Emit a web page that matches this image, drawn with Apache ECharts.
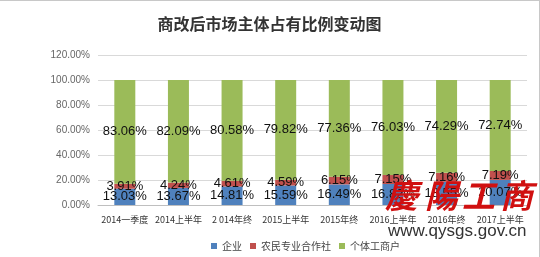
<!DOCTYPE html>
<html><head><meta charset="utf-8">
<script src="https://cdn.jsdelivr.net/npm/echarts@6/dist/echarts.min.js"></script>
<style>html,body{margin:0;padding:0;background:#fff}#c{width:540px;height:257px;box-sizing:border-box;border-top:1px solid #c8c8c8;border-right:1px solid #c8c8c8}</style>
</head><body><div id="c"></div>
<script>
const categories = ['2014一季度','2014上半年','2 014年终','2015上半年','2015年终','2016上半年','2016年终','2017上半年'];
const qiye = [13.03, 13.67, 14.81, 15.59, 16.49, 16.82, 18.55, 20.07];
const hezuoshe = [3.91, 4.24, 4.61, 4.59, 6.15, 7.15, 7.16, 7.19];
const getihu = [83.06, 82.09, 80.58, 79.82, 77.36, 76.03, 74.29, 72.74];
const seriesNames = ['企业','农民专业合作社','个体工商户'];
const yTicks = {min:0, max:120, interval:20};

const chart = echarts.init(document.getElementById('c'), null, {renderer:'canvas'});
const lbl = {show:true, position:'inside', color:'#111', fontSize:13, fontFamily:'Liberation Sans, sans-serif', formatter: p => p.value.toFixed(2)+'%'};
function mk(name, data, color){
  return {name, type:'bar', stack:'s', data, barWidth:21, itemStyle:{color}, label:lbl, emphasis:{disabled:true}};
}
const wm = ['慶','陽','工','商'];
const wmX = [385, 425, 462, 500];
chart.setOption({
  animation:false,
  title:{text:'商改后市场主体占有比例变动图', left:'center', top:10, textStyle:{fontSize:16, fontWeight:'bold', color:'#333', fontFamily:'Noto Sans CJK SC'}},
  grid:{left:98, right:12, top:54, bottom:52},
  legend:{data:seriesNames, bottom:1, left:206, itemWidth:6, itemHeight:6, itemGap:8, icon:'rect', textStyle:{fontSize:10, color:'#444', fontFamily:'Noto Sans CJK SC'}},
  xAxis:{type:'category', data:categories, axisTick:{show:false}, axisLine:{lineStyle:{color:'#bfbfbf'}}, axisLabel:{fontSize:9, color:'#333', margin:10, fontFamily:'Noto Sans CJK SC', interval:0}},
  yAxis:{type:'value', min:yTicks.min, max:yTicks.max, interval:yTicks.interval, axisLabel:{fontSize:10, color:'#666', margin:8, formatter:v=>v.toFixed(2)+'%', fontFamily:'Liberation Sans'}, splitLine:{lineStyle:{color:'#d9d9d9'}}, axisLine:{show:false}, axisTick:{show:false}},
  series:[mk(seriesNames[0], qiye, '#4F81BD'), mk(seriesNames[1], hezuoshe, '#C0504D'), mk(seriesNames[2], getihu, '#9BBB59')],
  graphic: wm.map((ch,i)=>({type:'text', left:wmX[i], top:178, z:100, style:{text:ch, fill:'#d01010', font:'italic bold 33px "Noto Sans CJK TC"'}})).concat([
    {type:'text', left:388, top:222, z:100, style:{text:'www.qysgs.gov.cn', fill:'#333', font:'17px "Liberation Sans"'}}
  ])
});
</script></body></html>
